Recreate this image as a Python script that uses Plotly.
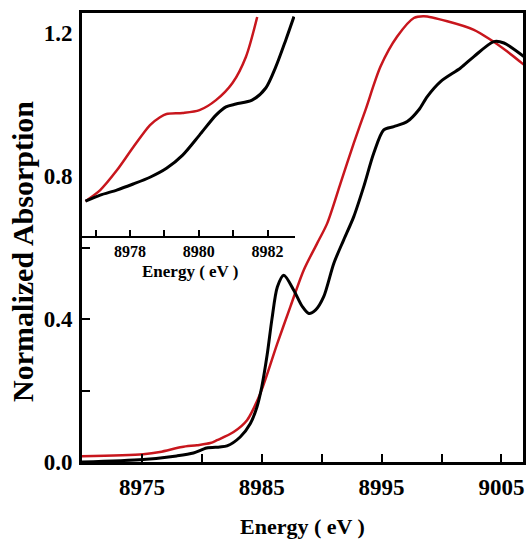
import plotly.graph_objects as go

# main spectra (Energy in eV, normalized absorption)
main_black_x = [8970.0, 8975.1, 8977.9, 8979.3, 8980.4, 8981.5, 8982.1, 8983.2, 8984.05, 8984.6,
                8985.0, 8985.45, 8985.85, 8986.3, 8986.84, 8987.67, 8988.37, 8988.92, 8989.5,
                8990.17, 8991.01, 8991.84, 8992.68, 8993.51, 8994.35, 8995.18, 8996.02, 8997.14,
                8998.11, 8998.81, 8999.92, 9001.59, 9002.7, 9004.37, 9005.21, 9006.88]
main_black_y = [0.0, 0.007, 0.017, 0.025, 0.039, 0.042, 0.045, 0.070, 0.108, 0.154,
                0.210, 0.300, 0.400, 0.490, 0.523, 0.481, 0.436, 0.416, 0.426,
                0.463, 0.556, 0.622, 0.687, 0.771, 0.865, 0.930, 0.939, 0.953,
                0.986, 1.023, 1.065, 1.103, 1.135, 1.177, 1.173, 1.135]

main_red_x = [8970.0, 8975.1, 8976.5, 8978.34, 8979.59, 8980.71, 8981.27, 8982.65, 8983.77, 8984.88,
              8986.28, 8987.39, 8988.5, 8989.62, 8990.46, 8991.57, 8992.68, 8993.66, 8994.91,
              8996.3, 8997.69, 8998.53, 9000.48, 9002.7, 9004.1, 9005.49, 9006.88]
main_red_y = [0.016, 0.022, 0.028, 0.042, 0.047, 0.053, 0.061, 0.084, 0.117, 0.192,
              0.330, 0.435, 0.537, 0.612, 0.668, 0.780, 0.893, 0.986, 1.107,
              1.191, 1.243, 1.248, 1.234, 1.210, 1.182, 1.149, 1.112]

# inset: pre-edge zoom
inset_black_x = [8976.7, 8977.13, 8977.61, 8978.09, 8978.58, 8979.06, 8979.53, 8980.02, 8980.5,
                 8980.79, 8981.08, 8981.55, 8981.95, 8982.24, 8982.53, 8982.77]
inset_black_y = [0.730, 0.747, 0.761, 0.778, 0.797, 0.822, 0.859, 0.915, 0.971,
                 0.994, 1.002, 1.013, 1.047, 1.106, 1.181, 1.247]

inset_red_x = [8976.7, 8977.13, 8977.62, 8978.09, 8978.58, 8978.87, 8979.06, 8979.53, 8980.02,
               8980.5, 8980.98, 8981.37, 8981.7]
inset_red_y = [0.730, 0.761, 0.817, 0.881, 0.943, 0.965, 0.974, 0.977, 0.985,
               1.013, 1.061, 1.134, 1.246]

main_xticks = [8975, 8980, 8985, 8990, 8995, 9000, 9005]
main_xlabels = ['8975', '', '8985', '', '8995', '', '9005']
main_yticks = [0.0, 0.2, 0.4, 0.6, 0.8, 1.0, 1.2]
main_ylabels = ['0.0', '', '0.4', '', '0.8', '', '1.2']
inset_xticks = [8977, 8978, 8979, 8980, 8981, 8982]
inset_xlabels = ['', '8978', '', '8980', '', '8982']

RED = '#C8161D'
FONT = 'Liberation Serif'

fig = go.Figure()
fig.add_trace(go.Scatter(x=main_red_x, y=main_red_y, mode='lines',
                         line=dict(color=RED, width=2.5, shape='spline', smoothing=0.8)))
fig.add_trace(go.Scatter(x=main_black_x, y=main_black_y, mode='lines',
                         line=dict(color='black', width=3, shape='spline', smoothing=0.8)))
fig.add_trace(go.Scatter(x=inset_red_x, y=inset_red_y, mode='lines', xaxis='x2', yaxis='y2',
                         line=dict(color=RED, width=2.5, shape='spline', smoothing=0.8)))
fig.add_trace(go.Scatter(x=inset_black_x, y=inset_black_y, mode='lines', xaxis='x2', yaxis='y2',
                         line=dict(color='black', width=3, shape='spline', smoothing=0.8)))

fig.update_layout(
    width=526, height=540,
    margin=dict(l=82, r=3, t=13, b=78, autoexpand=False),
    plot_bgcolor='white', paper_bgcolor='white',
    showlegend=False,
    font=dict(family=FONT, color='black'),
    xaxis=dict(range=[8970, 9006.8], domain=[0, 1], tickvals=main_xticks, ticktext=main_xlabels,
               ticks='inside', ticklen=8, tickwidth=2, tickcolor='black',
               showline=True, linewidth=3, linecolor='black', mirror=True,
               showgrid=False, zeroline=False, ticklabelstandoff=2,
               tickfont=dict(family=FONT, size=23, weight='bold')),
    yaxis=dict(range=[0, 1.257], domain=[0, 1], tickvals=main_yticks, ticktext=main_ylabels,
               ticks='inside', ticklen=8, tickwidth=2, tickcolor='black',
               showline=True, linewidth=3, linecolor='black', mirror=True,
               showgrid=False, zeroline=False, ticklabelstandoff=2,
               tickfont=dict(family=FONT, size=23, weight='bold')),
    xaxis2=dict(range=[8976.6, 8982.8], domain=[0, 0.483], anchor='y2',
                tickvals=inset_xticks, ticktext=inset_xlabels,
                ticks='inside', ticklen=6, tickwidth=1.5, tickcolor='black',
                showline=True, linewidth=2, linecolor='black', mirror=False,
                showgrid=False, zeroline=False, ticklabelstandoff=0,
                tickfont=dict(family=FONT, size=16, weight='bold')),
    yaxis2=dict(range=[0.632, 1.257], domain=[0.503, 1], anchor='x2', visible=False),
    annotations=[
        dict(text='<b>Energy ( eV )</b>', xref='paper', yref='paper', x=0.5, y=-0.143,
             xanchor='center', yanchor='middle', showarrow=False,
             font=dict(family=FONT, size=22)),
        dict(text='<b>Normalized Absorption</b>', xref='paper', yref='paper', x=-0.134, y=0.47,
             xanchor='center', yanchor='middle', showarrow=False, textangle=-90,
             font=dict(family=FONT, size=30)),
        dict(text='<b>Energy ( eV )</b>', xref='paper', yref='paper', x=0.245, y=0.424,
             xanchor='center', yanchor='middle', showarrow=False,
             font=dict(family=FONT, size=17)),
    ],
)

fig.write_html("out.html", config={'displayModeBar': False},
               post_script="document.body.style.margin='0';")
